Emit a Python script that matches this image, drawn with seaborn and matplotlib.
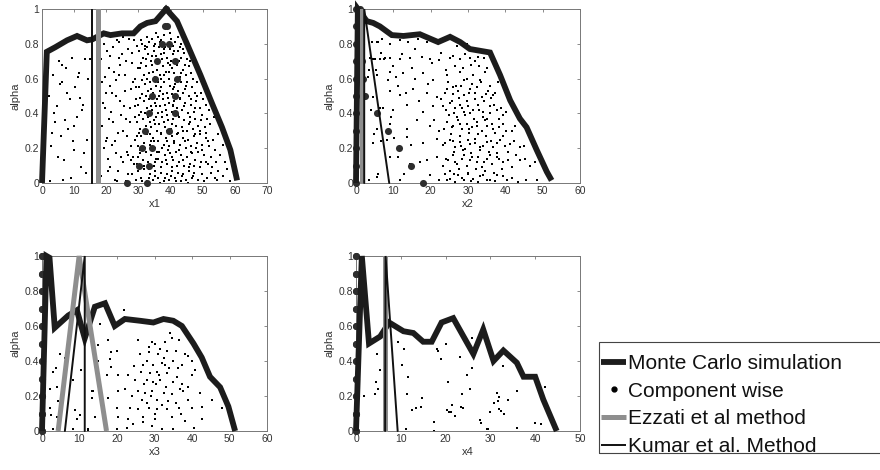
import matplotlib
matplotlib.use('Agg')
import matplotlib.pyplot as plt
import seaborn as sns
import pandas as pd
from matplotlib.lines import Line2D
from matplotlib.patches import Rectangle

sns.set_style('white')
plt.rcParams['font.family'] = ['Liberation Sans', 'DejaVu Sans']

# ---------------- data ----------------
alpha_levels = [0.0, 0.1, 0.2, 0.3, 0.4, 0.5, 0.6, 0.7, 0.8, 0.9, 1.0]

# Monte Carlo simulation envelopes
mc1_x = [0, 1.5, 4.1, 7.8, 10.9, 14.0, 15.6, 19.2, 21.3, 24.9, 28.5, 30.6, 32.7, 35.3, 38.6, 42.0, 45.1, 49.3, 52.9, 56.0, 58.6, 60.7]
mc1_a = [0, 0.754, 0.78, 0.82, 0.845, 0.82, 0.825, 0.86, 0.85, 0.86, 0.86, 0.90, 0.92, 0.93, 1.0, 0.93, 0.80, 0.62, 0.457, 0.32, 0.19, 0.015]
mc2_x = [0, 0.5, 2.9, 4.6, 6.4, 9.6, 12.7, 17.1, 19.8, 22.0, 25.2, 27.9, 30.5, 33.2, 35.9, 38.6, 41.3, 43.9, 45.7, 48.4, 51.1, 52.4]
mc2_a = [0, 1.0, 0.93, 0.92, 0.90, 0.85, 0.845, 0.855, 0.83, 0.81, 0.84, 0.81, 0.77, 0.76, 0.75, 0.62, 0.475, 0.37, 0.32, 0.19, 0.065, 0.015]
mc3_x = [0, 1.2, 2.0, 3.4, 7.0, 9.3, 11.4, 14.1, 16.8, 19.4, 22.1, 26.1, 29.7, 32.4, 35.0, 37.3, 40.4, 42.6, 44.8, 47.5, 49.7, 51.5]
mc3_a = [0, 1.0, 0.99, 0.59, 0.66, 0.69, 0.53, 0.71, 0.73, 0.60, 0.64, 0.63, 0.62, 0.64, 0.63, 0.60, 0.50, 0.42, 0.31, 0.25, 0.14, 0.0]
mc4_x = [0, 1.3, 2.9, 5.4, 7.4, 10.6, 12.8, 15.0, 16.9, 19.1, 21.7, 24.0, 26.2, 28.4, 30.7, 32.9, 35.9, 37.4, 40.0, 41.8, 44.8]
mc4_a = [0, 1.0, 0.50, 0.54, 0.62, 0.57, 0.56, 0.51, 0.51, 0.62, 0.645, 0.54, 0.44, 0.58, 0.40, 0.46, 0.39, 0.31, 0.31, 0.18, 0.0]

# Ezzati et al method
ez1_x = [17.4, 17.4, 17.4]; ez1_a = [0, 1, 0]
ez2_x = [1.6, 1.6, 1.6];    ez2_a = [0, 1, 0]
ez3_x = [4.3, 9.9, 17.2];   ez3_a = [0, 1, 0]
ez4_x = [6.4, 6.4, 6.4];    ez4_a = [0, 1, 0]

# Kumar et al. Method
ku1_x = [15.6, 15.6, 15.6]; ku1_a = [0, 1, 0]
ku2_x = [2.2, 2.2, 8.9];    ku2_a = [0, 1, 0]
ku3_x = [6.1, 11.4, 11.4];  ku3_a = [0, 1, 0]
ku4_x = [6.5, 6.6, 9.3];    ku4_a = [0, 1, 0]

# Component wise (left and right end at each alpha level)
cw1_left = [26.4, 30.1, 31.1, 32.1, 33.2, 34.2, 35.3, 35.8, 37.3, 38.4, 38.6]
cw1_right = [32.7, 33.2, 34.2, 39.4, 41.5, 41.5, 42.0, 41.5, 39.4, 38.8, 38.6]
cw2_left = [0, 0, 0, 0, 0, 0, 0, 0, 0, 0, 0]
cw2_right = [17.9, 14.6, 11.6, 8.5, 5.5, 2.4, 1.9, 1.6, 1.4, 1.2, 1.0]
cw3_left = [0, 0, 0, 0, 0, 0, 0, 0, 0, 0, 0]
cw3_right = [0, 0, 0, 0, 0, 0, 0, 0, 0, 0, 0]
cw4_left = [0, 0, 0, 0, 0, 0, 0, 0, 0, 0, 0]
cw4_right = [0, 0, 0, 0, 0, 0, 0, 0, 0, 0, 0]

# Monte Carlo sample clouds (x, alpha)
cloud1 = [
    (2.1, 0.50), (2.8, 0.21), (3.4, 0.62), (3.9, 0.35), (4.6, 0.44), (5.2, 0.70), (5.8, 0.27), (6.3, 0.58),
    (6.9, 0.13), (7.4, 0.66), (8.1, 0.31), (8.6, 0.48), (9.2, 0.72), (9.8, 0.19), (10.3, 0.55), (10.9, 0.38),
    (11.6, 0.63), (12.2, 0.09), (12.8, 0.45), (13.3, 0.71), (13.9, 0.25), (14.4, 0.60), (2.5, 0.01), (3.7, 0.40),
    (4.9, 0.15), (6.1, 0.68), (7.7, 0.52), (8.9, 0.03), (10.1, 0.33), (11.2, 0.61), (12.5, 0.42), (13.7, 0.06),
    (14.8, 0.71), (3.1, 0.29), (5.5, 0.57), (7.1, 0.36), (9.5, 0.24), (11.9, 0.49), (13.1, 0.17), (6.6, 0.02),
    (18.2, 0.71), (18.7, 0.33), (19.3, 0.80), (19.8, 0.52), (20.4, 0.14), (20.9, 0.66), (21.5, 0.41), (22.0, 0.78),
    (22.6, 0.24), (23.1, 0.59), (23.7, 0.07), (24.2, 0.47), (24.8, 0.74), (25.3, 0.30), (25.9, 0.62), (26.4, 0.18),
    (27.0, 0.83), (27.5, 0.43), (28.1, 0.69), (28.6, 0.11), (29.2, 0.55), (29.7, 0.79), (18.5, 0.04), (19.6, 0.61),
    (20.7, 0.37), (21.8, 0.22), (22.9, 0.50), (24.0, 0.81), (25.1, 0.12), (26.2, 0.70), (27.3, 0.35), (28.4, 0.58),
    (29.5, 0.27), (18.9, 0.46), (20.1, 0.76), (21.3, 0.09), (22.4, 0.64), (23.5, 0.29), (24.6, 0.39), (25.7, 0.53),
    (26.8, 0.16), (27.9, 0.75), (29.0, 0.44), (19.2, 0.20), (21.0, 0.56), (22.7, 0.02), (24.4, 0.68), (26.1, 0.37),
    (27.7, 0.13), (29.3, 0.48), (20.3, 0.26), (23.8, 0.72), (26.6, 0.05), (28.9, 0.60),
    (18.8, 0.58), (19.9, 0.24), (21.2, 0.73), (22.2, 0.35), (23.3, 0.82), (24.5, 0.15), (25.6, 0.44), (26.7, 0.77),
    (27.8, 0.21), (28.8, 0.38), (29.9, 0.66), (19.5, 0.43), (20.6, 0.07), (21.7, 0.52), (22.9, 0.17), (24.1, 0.62),
    (25.3, 0.84), (26.5, 0.27), (27.6, 0.54), (28.7, 0.82), (29.8, 0.15), (23.2, 0.01), (26.0, 0.01),
    (30.8, 0.82), (31.9, 0.79), (32.6, 0.84), (33.4, 0.81), (34.3, 0.83), (35.1, 0.80), (36.2, 0.84), (37.0, 0.82),
    (38.1, 0.85), (39.3, 0.80), (40.2, 0.83), (41.4, 0.81), (42.3, 0.84), (43.1, 0.80), (35.6, 0.86), (39.8, 0.86),
    (31.2, 0.80), (32.8, 0.78), (34.9, 0.79), (36.6, 0.81), (38.4, 0.78), (40.9, 0.79), (42.8, 0.78), (44.0, 0.77),
    (30.2, 0.76), (31.3, 0.72), (32.1, 0.77), (33.0, 0.74), (33.8, 0.70), (34.7, 0.76), (35.5, 0.73), (36.4, 0.78),
    (37.3, 0.71), (38.0, 0.75), (38.9, 0.72), (39.7, 0.77), (40.6, 0.74), (41.5, 0.70), (42.4, 0.76), (43.3, 0.72),
    (44.2, 0.75), (45.0, 0.71), (36.9, 0.74), (40.1, 0.70),
    (30.9, 0.69), (32.5, 0.71), (34.2, 0.73), (35.8, 0.69), (37.8, 0.77), (39.2, 0.69), (41.0, 0.76), (42.7, 0.70),
    (44.6, 0.68), (46.0, 0.70),
    (30.5, 0.66), (31.6, 0.62), (32.4, 0.67), (33.3, 0.63), (34.1, 0.68), (35.0, 0.61), (35.9, 0.65), (36.7, 0.62),
    (37.6, 0.67), (38.5, 0.64), (39.4, 0.60), (40.3, 0.66), (41.1, 0.63), (42.0, 0.68), (42.9, 0.61), (43.8, 0.65),
    (44.7, 0.62), (45.6, 0.67), (46.4, 0.63), (37.1, 0.60), (39.9, 0.68),
    (31.0, 0.59), (32.7, 0.60), (34.5, 0.64), (36.2, 0.58), (37.9, 0.62), (39.6, 0.64), (41.4, 0.59), (43.2, 0.63),
    (45.1, 0.58), (47.0, 0.60), (48.2, 0.58),
    (30.1, 0.55), (31.2, 0.51), (32.0, 0.57), (32.9, 0.53), (33.7, 0.58), (34.6, 0.52), (35.4, 0.56), (36.3, 0.50),
    (37.1, 0.55), (38.0, 0.58), (38.8, 0.52), (39.7, 0.56), (40.5, 0.51), (41.4, 0.57), (42.3, 0.53), (43.1, 0.58),
    (44.0, 0.52), (44.9, 0.56), (45.8, 0.50), (46.6, 0.55), (47.5, 0.52), (36.7, 0.53), (40.9, 0.54),
    (30.6, 0.49), (32.4, 0.50), (34.0, 0.54), (35.8, 0.48), (37.5, 0.51), (39.2, 0.49), (41.0, 0.55), (42.8, 0.49),
    (44.5, 0.54), (46.2, 0.48), (48.3, 0.50), (49.6, 0.52),
    (29.8, 0.45), (30.9, 0.41), (31.7, 0.47), (32.6, 0.43), (33.4, 0.48), (34.3, 0.42), (35.1, 0.46), (36.0, 0.40),
    (36.8, 0.44), (37.7, 0.48), (38.6, 0.42), (39.4, 0.46), (40.3, 0.41), (41.1, 0.47), (42.0, 0.43), (42.9, 0.48),
    (43.7, 0.42), (44.6, 0.46), (45.4, 0.40), (46.3, 0.45), (47.2, 0.41), (48.0, 0.47), (49.1, 0.43), (35.6, 0.44),
    (38.2, 0.45), (40.8, 0.44), (50.2, 0.48), (51.8, 0.42), (53.5, 0.38),
    (30.3, 0.39), (32.0, 0.40), (33.8, 0.44), (35.4, 0.38), (37.2, 0.41), (38.9, 0.39), (40.6, 0.45), (42.4, 0.39),
    (44.1, 0.44), (45.9, 0.38), (47.7, 0.43), (49.8, 0.39), (51.0, 0.45),
    (29.5, 0.35), (30.6, 0.31), (31.4, 0.37), (32.3, 0.33), (33.1, 0.38), (34.0, 0.32), (34.8, 0.36), (35.7, 0.30),
    (36.5, 0.34), (37.4, 0.38), (38.3, 0.32), (39.1, 0.36), (40.0, 0.31), (40.8, 0.37), (41.7, 0.33), (42.6, 0.38),
    (43.4, 0.32), (44.3, 0.36), (45.1, 0.30), (46.0, 0.35), (46.9, 0.31), (47.7, 0.37), (48.6, 0.33), (49.5, 0.36),
    (50.6, 0.32), (51.4, 0.37), (33.6, 0.35), (37.9, 0.35), (54.8, 0.28),
    (30.1, 0.29), (31.9, 0.30), (33.6, 0.28), (35.3, 0.34), (37.0, 0.29), (38.8, 0.30), (40.5, 0.34), (42.3, 0.29),
    (44.0, 0.30), (45.7, 0.34), (47.5, 0.28), (49.3, 0.30), (51.0, 0.29), (52.4, 0.34),
    (29.0, 0.25), (30.0, 0.21), (30.9, 0.27), (31.8, 0.23), (32.7, 0.28), (33.5, 0.22), (34.4, 0.26), (35.2, 0.20),
    (36.1, 0.24), (36.9, 0.28), (37.8, 0.22), (38.7, 0.26), (39.5, 0.21), (40.4, 0.27), (41.2, 0.23), (42.1, 0.28),
    (43.0, 0.22), (43.8, 0.26), (44.7, 0.20), (45.5, 0.25), (46.4, 0.21), (47.3, 0.27), (48.1, 0.23), (49.0, 0.28),
    (49.9, 0.22), (50.9, 0.26), (52.0, 0.21), (53.2, 0.25), (34.9, 0.24), (39.0, 0.24), (56.2, 0.22),
    (30.4, 0.19), (32.1, 0.20), (33.9, 0.24), (35.7, 0.18), (37.4, 0.20), (39.2, 0.19), (41.0, 0.24), (42.7, 0.19),
    (44.4, 0.24), (46.2, 0.18), (48.0, 0.20), (49.7, 0.19), (51.5, 0.24), (53.8, 0.19),
    (28.4, 0.15), (29.5, 0.11), (30.4, 0.17), (31.3, 0.13), (32.2, 0.18), (33.0, 0.12), (33.9, 0.16), (34.7, 0.10),
    (35.6, 0.14), (36.4, 0.18), (37.3, 0.12), (38.2, 0.16), (39.0, 0.11), (39.9, 0.17), (40.7, 0.13), (41.6, 0.18),
    (42.5, 0.12), (43.3, 0.16), (44.2, 0.10), (45.0, 0.15), (45.9, 0.11), (46.8, 0.17), (47.6, 0.13), (48.5, 0.18),
    (49.4, 0.12), (50.4, 0.16), (51.5, 0.11), (52.6, 0.15), (54.1, 0.12), (55.3, 0.16), (36.0, 0.14), (40.3, 0.15),
    (29.8, 0.09), (31.6, 0.10), (33.4, 0.08), (35.1, 0.12), (36.9, 0.09), (38.6, 0.13), (40.4, 0.09), (42.1, 0.10),
    (43.9, 0.13), (45.6, 0.09), (47.4, 0.10), (49.1, 0.09), (50.9, 0.12), (52.9, 0.09), (54.8, 0.07), (56.8, 0.12),
    (27.9, 0.05), (29.1, 0.02), (30.0, 0.07), (30.9, 0.03), (31.8, 0.08), (32.7, 0.01), (33.6, 0.05), (34.4, 0.02),
    (35.3, 0.07), (36.1, 0.03), (37.0, 0.06), (37.9, 0.01), (38.8, 0.05), (39.6, 0.02), (40.5, 0.07), (41.3, 0.03),
    (42.2, 0.06), (43.1, 0.01), (44.0, 0.05), (44.8, 0.02), (45.7, 0.07), (46.6, 0.03), (47.4, 0.06), (48.6, 0.02),
    (49.8, 0.05), (51.2, 0.03), (52.7, 0.06), (54.5, 0.02), (56.3, 0.04), (58.6, 0.01), (57.4, 0.08),
    (31.1, 0.01), (33.2, 0.03), (35.0, 0.04), (36.7, 0.00), (38.3, 0.03), (40.0, 0.04), (41.8, 0.01), (43.6, 0.04),
    (45.3, 0.00), (47.0, 0.04), (50.4, 0.01), (53.7, 0.03),
]

cloud2 = [
    (4.2, 0.81), (5.7, 0.81), (6.9, 0.825), (9.1, 0.80), (11.8, 0.82), (14.0, 0.81), (16.7, 0.825), (18.9, 0.81),
    (21.6, 0.81), (24.3, 0.82), (27.0, 0.79), (29.6, 0.80),
    (3.75, 0.716), (5.1, 0.71), (6.4, 0.715), (7.8, 0.72), (9.1, 0.716), (11.8, 0.71), (14.5, 0.72), (17.6, 0.725),
    (19.8, 0.71), (22.1, 0.705), (25.2, 0.72), (27.9, 0.71), (30.5, 0.72), (32.8, 0.725),
    (3.3, 0.61), (5.5, 0.62), (9.1, 0.64), (12.7, 0.63), (15.8, 0.60), (18.0, 0.63), (20.7, 0.59), (24.3, 0.62),
    (27.9, 0.64), (29.6, 0.60), (31.4, 0.62), (33.2, 0.59), (34.6, 0.64),
    (4.6, 0.495), (9.1, 0.53), (11.8, 0.505), (15.4, 0.54), (18.9, 0.52), (21.6, 0.495), (24.3, 0.54), (26.1, 0.51),
    (27.4, 0.53), (28.8, 0.505), (30.5, 0.54), (31.9, 0.52), (33.7, 0.495), (35.4, 0.53), (36.8, 0.505),
    (23.4, 0.44), (25.2, 0.46), (26.5, 0.43), (27.9, 0.45), (28.8, 0.41), (30.1, 0.44), (31.4, 0.42), (32.8, 0.45),
    (34.1, 0.41), (35.9, 0.44), (37.7, 0.42), (39.5, 0.39), (6.4, 0.43), (10.0, 0.42), (13.6, 0.45), (18.0, 0.41),
    (20.7, 0.44),
    (24.3, 0.35), (26.1, 0.33), (27.4, 0.36), (28.3, 0.31), (29.6, 0.34), (31.0, 0.32), (32.3, 0.35), (33.7, 0.30),
    (35.0, 0.33), (36.8, 0.31), (39.5, 0.34), (41.7, 0.30), (9.1, 0.34), (13.6, 0.31), (19.8, 0.33), (22.1, 0.30),
    (5.5, 0.31),
    (4.6, 0.23), (8.2, 0.25), (13.6, 0.265), (18.0, 0.23), (21.6, 0.255), (23.4, 0.217), (25.2, 0.245), (26.5, 0.207),
    (27.9, 0.236), (29.2, 0.198), (30.5, 0.226), (31.9, 0.255), (33.2, 0.207), (35.0, 0.236), (36.8, 0.207),
    (38.6, 0.245), (41.3, 0.226), (43.9, 0.207),
    (18.9, 0.13), (21.6, 0.15), (23.4, 0.10), (24.7, 0.13), (26.1, 0.16), (27.0, 0.11), (28.3, 0.14), (29.6, 0.10),
    (31.0, 0.15), (32.3, 0.12), (33.7, 0.09), (35.0, 0.14), (36.3, 0.11), (37.7, 0.15), (39.5, 0.12), (41.7, 0.09),
    (43.9, 0.13), (46.6, 0.10), (14.5, 0.11), (9.1, 0.15),
    (5.5, 0.035), (11.8, 0.015), (19.8, 0.044), (22.1, 0.015), (23.8, 0.054), (25.2, 0.025), (26.5, 0.006),
    (27.4, 0.044), (28.8, 0.015), (30.1, 0.054), (31.4, 0.025), (32.8, 0.006), (34.1, 0.044), (35.9, 0.015),
    (37.7, 0.044), (40.4, 0.015), (43.5, 0.006), (48.4, 0.015),
    (5.8, 0.81), (6.7, 0.745), (4.5, 0.71), (7.6, 0.71), (5.4, 0.65), (9.8, 0.67), (3.6, 0.65), (8.5, 0.59),
    (11.2, 0.56), (4.0, 0.42), (7.1, 0.43), (9.4, 0.38), (4.9, 0.28), (6.7, 0.24), (10.3, 0.26), (11.2, 0.15),
    (5.8, 0.05), (3.6, 0.015),
    (24.6, 0.58), (26.8, 0.56), (28.9, 0.59), (31.2, 0.57), (33.5, 0.58), (35.8, 0.56), (25.7, 0.47), (27.6, 0.49),
    (29.8, 0.47), (32.0, 0.48), (34.4, 0.47), (36.2, 0.49), (24.9, 0.39), (27.1, 0.38), (29.1, 0.39), (31.7, 0.37),
    (33.9, 0.38), (36.0, 0.40), (38.2, 0.37), (25.5, 0.28), (27.8, 0.27), (30.2, 0.29), (32.6, 0.28), (34.8, 0.27),
    (37.1, 0.29), (39.3, 0.27), (26.2, 0.18), (28.6, 0.19), (30.9, 0.17), (33.1, 0.19), (35.5, 0.18), (37.9, 0.17),
    (40.6, 0.18), (25.1, 0.07), (27.5, 0.08), (29.9, 0.06), (32.1, 0.08), (34.6, 0.07), (36.9, 0.06), (39.1, 0.08),
    (24.1, 0.65), (26.4, 0.67), (28.6, 0.66), (30.9, 0.68), (33.0, 0.67), (35.2, 0.66), (26.0, 0.73), (29.2, 0.74),
    (31.8, 0.70), (34.3, 0.72),
    (23.8, 0.52), (25.9, 0.55), (28.1, 0.56), (30.3, 0.52), (32.5, 0.55), (34.7, 0.51), (37.2, 0.52), (38.1, 0.58),
    (24.0, 0.42), (26.3, 0.40), (28.4, 0.43), (30.6, 0.40), (32.9, 0.42), (35.1, 0.37), (37.0, 0.45), (38.8, 0.43),
    (40.1, 0.41),
    (23.5, 0.31), (25.8, 0.32), (27.9, 0.34), (30.4, 0.31), (32.4, 0.33), (34.6, 0.36), (36.5, 0.34), (38.3, 0.32),
    (40.2, 0.30), (42.6, 0.33),
    (23.9, 0.23), (26.0, 0.24), (28.2, 0.21), (30.1, 0.25), (32.0, 0.23), (34.0, 0.21), (36.1, 0.24), (37.8, 0.23),
    (39.8, 0.21), (42.3, 0.24), (45.0, 0.21),
    (24.1, 0.14), (26.6, 0.12), (28.8, 0.16), (30.6, 0.13), (32.7, 0.15), (34.3, 0.12), (36.0, 0.16), (38.4, 0.14),
    (40.8, 0.13), (42.8, 0.16), (45.2, 0.14), (47.9, 0.12),
    (24.4, 0.02), (26.2, 0.05), (28.4, 0.03), (30.7, 0.01), (33.1, 0.04), (35.2, 0.02), (37.1, 0.01), (39.4, 0.04),
    (41.9, 0.03), (45.5, 0.02),
    (12.4, 0.74), (15.1, 0.66), (16.9, 0.47), (19.4, 0.57), (21.0, 0.36), (14.7, 0.22), (17.2, 0.12), (12.9, 0.05),
    (16.3, 0.36), (20.4, 0.69), (22.9, 0.75), (10.8, 0.61), (13.3, 0.52), (22.8, 0.48), (15.7, 0.77),
]

cloud3 = [
    (15.4, 0.61), (25.5, 0.52), (34.1, 0.56), (17.7, 0.52), (15.0, 0.49), (29.2, 0.51), (30.1, 0.50), (32.8, 0.51),
    (34.6, 0.53), (36.4, 0.52), (19.9, 0.46), (18.5, 0.45), (26.1, 0.44), (28.4, 0.45), (31.0, 0.44), (32.4, 0.42),
    (33.3, 0.46), (38.2, 0.44), (39.0, 0.43), (18.1, 0.41), (15.0, 0.40), (27.9, 0.40), (31.9, 0.39), (35.0, 0.40),
    (39.9, 0.40), (27.0, 0.375), (29.7, 0.38), (32.8, 0.375), (37.3, 0.375), (18.5, 0.365), (40.8, 0.35),
    (17.2, 0.32), (20.3, 0.32), (23.0, 0.32), (28.8, 0.33), (30.6, 0.34), (33.3, 0.33), (35.9, 0.31), (39.9, 0.32),
    (24.8, 0.29), (27.9, 0.29), (29.7, 0.28), (31.5, 0.29), (35.0, 0.28), (37.3, 0.27), (13.2, 0.23), (20.3, 0.23),
    (22.1, 0.24), (25.7, 0.23), (27.5, 0.22), (29.2, 0.23), (32.4, 0.22), (34.6, 0.21), (37.7, 0.23), (42.2, 0.22),
    (45.3, 0.18), (17.7, 0.19), (23.9, 0.20), (26.6, 0.18), (30.6, 0.18), (33.7, 0.17), (39.0, 0.18), (16.3, 0.14),
    (19.9, 0.13), (23.4, 0.13), (25.7, 0.125), (28.4, 0.13), (30.6, 0.125), (33.3, 0.125), (36.4, 0.13),
    (39.9, 0.13), (42.6, 0.14), (14.1, 0.08), (20.3, 0.08), (23.0, 0.07), (27.0, 0.08), (30.1, 0.07), (34.6, 0.08),
    (38.2, 0.06), (42.6, 0.07), (48.0, 0.13), (22.6, 0.02), (29.2, 0.03), (31.9, 0.01), (35.0, 0.01), (40.4, 0.02),
    (19.9, 0.01), (24.3, 0.04), (12.3, 0.01), (21.9, 0.69),
    (4.7, 0.44), (6.1, 0.42), (2.9, 0.34), (3.6, 0.36), (2.1, 0.24), (3.9, 0.25), (4.3, 0.17), (2.1, 0.13),
    (2.5, 0.09), (3.9, 0.08), (8.3, 0.29), (8.7, 0.12), (9.2, 0.07), (10.1, 0.09), (10.5, 0.35), (13.6, 0.23),
    (13.2, 0.19), (2.9, 0.01), (8.3, 0.01), (12.3, 0.0),
    (31.5, 0.47), (33.9, 0.36), (36.8, 0.24), (28.0, 0.16), (32.1, 0.15), (26.3, 0.34), (35.6, 0.46), (30.4, 0.27),
    (27.3, 0.27), (29.0, 0.20), (31.2, 0.32), (33.0, 0.25), (35.8, 0.16), (30.0, 0.10), (26.8, 0.05), (37.0, 0.10),
    (38.8, 0.25), (24.6, 0.37), (28.6, 0.48), (36.3, 0.36),
]

cloud4 = [
    (1.8, 0.20), (4.6, 0.44), (5.4, 0.35), (4.4, 0.28), (5.0, 0.24), (4.2, 0.21), (9.4, 0.51), (10.8, 0.47),
    (10.2, 0.38), (11.7, 0.31), (11.3, 0.21), (12.4, 0.12), (11.2, 0.01), (9.8, 1.0), (13.5, 0.13), (14.4, 0.14),
    (14.8, 0.19), (17.4, 0.05), (17.5, 0.0), (18.0, 0.47), (18.9, 0.41), (18.4, 0.46), (20.2, 0.50), (20.6, 0.28),
    (20.4, 0.12), (20.8, 0.11), (21.4, 0.15), (21.2, 0.11), (22.2, 0.085), (23.2, 0.425), (23.6, 0.21),
    (23.4, 0.14), (23.8, 0.13), (24.7, 0.32), (25.4, 0.24), (25.8, 0.36), (25.9, 0.53), (27.7, 0.065),
    (27.8, 0.045), (29.2, 0.01), (29.5, 0.01), (29.9, 0.11), (30.7, 0.16), (31.4, 0.22), (31.9, 0.195),
    (31.8, 0.17), (32.0, 0.125), (32.3, 0.115), (33.0, 0.10), (34.0, 0.18), (32.9, 0.37), (36.0, 0.23),
    (36.0, 0.02), (40.0, 0.045), (41.2, 0.04), (42.2, 0.25),
]

panels = [
    dict(cloud=cloud1, mc=(mc1_x, mc1_a), ez=(ez1_x, ez1_a), ku=(ku1_x, ku1_a), cw=(cw1_left, cw1_right), xmax=70, xlabel='x1'),
    dict(cloud=cloud2, mc=(mc2_x, mc2_a), ez=(ez2_x, ez2_a), ku=(ku2_x, ku2_a), cw=(cw2_left, cw2_right), xmax=60, xlabel='x2'),
    dict(cloud=cloud3, mc=(mc3_x, mc3_a), ez=(ez3_x, ez3_a), ku=(ku3_x, ku3_a), cw=(cw3_left, cw3_right), xmax=60, xlabel='x3'),
    dict(cloud=cloud4, mc=(mc4_x, mc4_a), ez=(ez4_x, ez4_a), ku=(ku4_x, ku4_a), cw=(cw4_left, cw4_right), xmax=50, xlabel='x4'),
]

# ---------------- layout / style ----------------
W, H = 880, 470
boxes_px = [(42, 9, 267, 183), (356, 9, 580, 183), (42, 256, 267, 431), (356, 256, 580, 431)]

MC_COLOR = '#1c1c1c'
EZ_COLOR = '#8e8e8e'
KU_COLOR = '#111111'
TXT = '#333333'

fig = plt.figure(figsize=(W / 100, H / 100), dpi=100)

for p, (l, t, r, b) in zip(panels, boxes_px):
    ax = fig.add_axes([l / W, 1 - b / H, (r - l) / W, (b - t) / H])
    cdf = pd.DataFrame(p['cloud'], columns=['x', 'alpha'])
    sns.scatterplot(data=cdf, x='x', y='alpha', ax=ax, s=3.8, marker='s', color='black',
                    linewidth=0, zorder=2, legend=False)
    cw_df = pd.DataFrame({'x': list(p['cw'][0]) + list(p['cw'][1]),
                          'alpha': alpha_levels + alpha_levels})
    sns.scatterplot(data=cw_df, x='x', y='alpha', ax=ax, s=26, color='#2e2e2e',
                    linewidth=0, zorder=3, legend=False, clip_on=False)
    sns.lineplot(x=p['mc'][0], y=p['mc'][1], ax=ax, sort=False, estimator=None, color=MC_COLOR,
                 lw=4.2, zorder=4, solid_joinstyle='miter', solid_capstyle='butt', clip_on=False)
    sns.lineplot(x=p['ez'][0], y=p['ez'][1], ax=ax, sort=False, estimator=None, color=EZ_COLOR,
                 lw=3.6, zorder=5, solid_joinstyle='miter', solid_capstyle='butt', clip_on=False)
    sns.lineplot(x=p['ku'][0], y=p['ku'][1], ax=ax, sort=False, estimator=None, color=KU_COLOR,
                 lw=1.4, zorder=6, solid_joinstyle='miter', clip_on=False)

    ax.set_xlim(0, p['xmax'])
    ax.set_ylim(0, 1)
    ax.set_xticks(range(0, p['xmax'] + 1, 10))
    ax.set_yticks([0, 0.2, 0.4, 0.6, 0.8, 1])
    ax.set_yticklabels(['0', '0.2', '0.4', '0.6', '0.8', '1'])
    ax.tick_params(direction='in', top=True, right=True, length=2.5, width=0.6,
                   colors='#777777', labelcolor=TXT, labelsize=7.5, pad=2)
    for s in ax.spines.values():
        s.set_color('#777777')
        s.set_linewidth(0.7)
    ax.set_xlabel(p['xlabel'], fontsize=8, color=TXT, labelpad=2)
    ax.set_ylabel('alpha', fontsize=8, color=TXT, labelpad=3)

# ---------------- legend ----------------
handles = [
    Line2D([], [], color=MC_COLOR, lw=4.2, solid_capstyle='butt'),
    Line2D([], [], color='black', lw=0, marker='o', markersize=3.5),
    Line2D([], [], color=EZ_COLOR, lw=3.6, solid_capstyle='butt'),
    Line2D([], [], color=KU_COLOR, lw=1.4, solid_capstyle='butt'),
]
labels = ['Monte Carlo simulation', 'Component wise', 'Ezzati et al method', 'Kumar et al. Method']
fig.legend(handles, labels, loc='upper left', bbox_to_anchor=(601 / W, 1 - 354 / H),
           frameon=False, fontsize=15, handlelength=1.2, handletextpad=0.08,
           labelspacing=0.42, borderpad=0, borderaxespad=0, labelcolor='#111111')
fig.add_artist(Rectangle((599 / W, 1 - 453 / H), (895 - 599) / W, (453 - 342) / H,
                         transform=fig.transFigure, fill=False, edgecolor='#444444',
                         lw=0.8, clip_on=False))

fig.savefig('out.png', dpi=100)
